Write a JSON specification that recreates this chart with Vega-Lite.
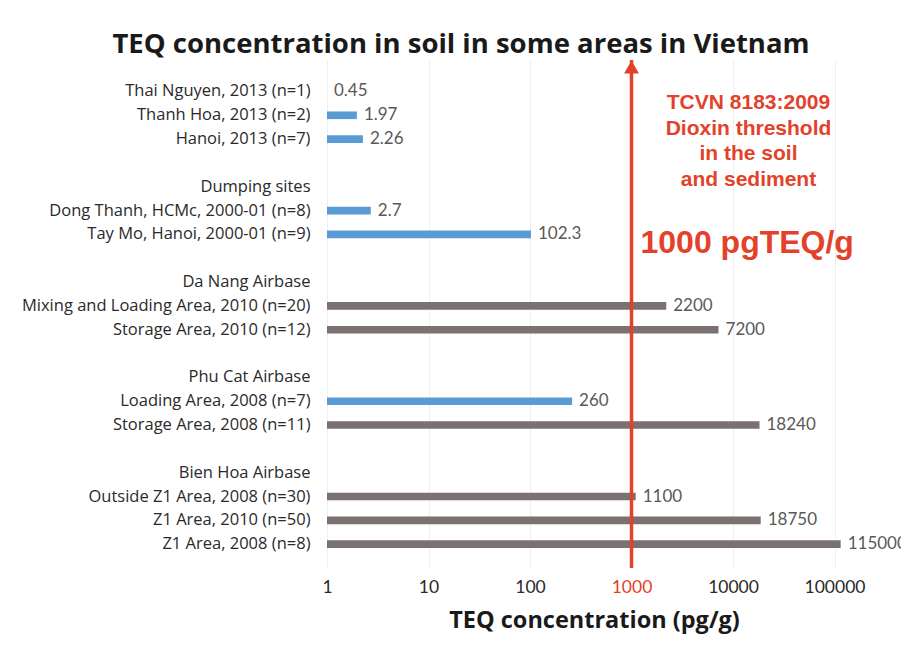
{
  "$schema": "https://vega.github.io/schema/vega-lite/v6.json",
  "autosize": {"type": "none"},
  "width": 574,
  "height": 508,
  "padding": {"left": 327, "top": 60, "right": 0, "bottom": 78},
  "background": "white",
  "title": {
    "text": "TEQ concentration in soil in some areas in Vietnam",
    "font": "Open Sans",
    "fontSize": 27.5,
    "fontWeight": "bold",
    "color": "#1a1a1a",
    "anchor": "middle",
    "dx": -153,
    "offset": 0
  },
  "config": {
    "font": "Open Sans",
    "view": {"stroke": null}
  },
  "datasets": {
    "rows": [
      {"label": "Thai Nguyen, 2013 (n=1)", "value": 0.45, "status": "below"},
      {"label": "Thanh Hoa, 2013 (n=2)", "value": 1.97, "status": "below"},
      {"label": "Hanoi, 2013 (n=7)", "value": 2.26, "status": "below"},
      {"label": " ", "value": null, "status": "none"},
      {"label": "Dumping sites", "value": null, "status": "none"},
      {"label": "Dong Thanh, HCMc, 2000-01 (n=8)", "value": 2.7, "status": "below"},
      {"label": "Tay Mo, Hanoi, 2000-01 (n=9)", "value": 102.3, "status": "below"},
      {"label": "  ", "value": null, "status": "none"},
      {"label": "Da Nang Airbase", "value": null, "status": "none"},
      {"label": "Mixing and Loading Area, 2010 (n=20)", "value": 2200, "status": "above"},
      {"label": "Storage Area, 2010 (n=12)", "value": 7200, "status": "above"},
      {"label": "   ", "value": null, "status": "none"},
      {"label": "Phu Cat Airbase", "value": null, "status": "none"},
      {"label": "Loading Area, 2008 (n=7)", "value": 260, "status": "below"},
      {"label": "Storage Area, 2008 (n=11)", "value": 18240, "status": "above"},
      {"label": "    ", "value": null, "status": "none"},
      {"label": "Bien Hoa Airbase", "value": null, "status": "none"},
      {"label": "Outside Z1 Area, 2008 (n=30)", "value": 1100, "status": "above"},
      {"label": "Z1 Area, 2010 (n=50)", "value": 18750, "status": "above"},
      {"label": "Z1 Area, 2008 (n=8)", "value": 115000, "status": "above"}
    ],
    "one": [{}]
  },
  "layer": [
    {
      "layer": [
        {
          "data": {"name": "rows"},
          "mark": {"type": "bar"},
          "encoding": {
            "y": {
              "field": "label",
              "type": "nominal",
              "sort": null,
              "scale": {
                "domain": ["Thai Nguyen, 2013 (n=1)", "Thanh Hoa, 2013 (n=2)", "Hanoi, 2013 (n=7)", " ", "Dumping sites", "Dong Thanh, HCMc, 2000-01 (n=8)", "Tay Mo, Hanoi, 2000-01 (n=9)", "  ", "Da Nang Airbase", "Mixing and Loading Area, 2010 (n=20)", "Storage Area, 2010 (n=12)", "   ", "Phu Cat Airbase", "Loading Area, 2008 (n=7)", "Storage Area, 2008 (n=11)", "    ", "Bien Hoa Airbase", "Outside Z1 Area, 2008 (n=30)", "Z1 Area, 2010 (n=50)", "Z1 Area, 2008 (n=8)"],
                "paddingInner": 0.68,
                "paddingOuter": 1.017,
                "align": 0.58
              },
              "axis": {
                "title": null,
                "ticks": false,
                "domain": false,
                "labelFont": "Open Sans",
                "labelFontSize": 16.5,
                "labelColor": "#2a2a2a",
                "labelPadding": 17,
                "labelLimit": 400
              }
            },
            "x": {
              "field": "value",
              "type": "quantitative",
              "scale": {"type": "log", "domain": [1, 452000], "nice": false, "clamp": true},
              "axis": {
                "values": [1, 10, 100, 1000, 10000, 100000],
                "format": "d",
                "title": "TEQ concentration (pg/g)",
                "titleFont": "Open Sans",
                "titleFontSize": 23.5,
                "titleFontWeight": "bold",
                "titleColor": "#1a1a1a",
                "titleX": 267,
                "titlePadding": 13,
                "domain": false,
                "ticks": false,
                "labelFont": "Lato",
                "labelFontSize": 17.5,
                "labelPadding": 10,
                "labelColor": {"condition": {"test": "datum.value == 1000", "value": "#e4412b"}, "value": "#2a2a2a"},
                "grid": true,
                "gridColor": "#efefef",
                "labelFlush": false
              }
            },
            "color": {
              "field": "status",
              "type": "nominal",
              "scale": {"domain": ["below", "above"], "range": ["#5b9bd5", "#7b7170"]},
              "legend": null
            }
          }
        },
        {
          "data": {"name": "rows"},
          "mark": {"type": "text", "align": "left", "baseline": "middle", "dx": 7, "font": "Lato", "fontSize": 17, "color": "#595959"},
          "encoding": {
            "y": {"field": "label", "type": "nominal", "sort": null},
            "x": {"field": "value", "type": "quantitative"},
            "text": {"field": "value", "type": "quantitative", "format": "~g"}
          }
        },
        {
          "data": {"name": "one"},
          "mark": {"type": "rule", "color": "#e4412b", "strokeWidth": 3.5},
          "encoding": {
            "x": {"datum": 1000, "type": "quantitative"}
          }
        },
        {
          "data": {"name": "one"},
          "mark": {"type": "text", "align": "center", "baseline": "middle", "dx": 117, "dy": 12, "font": "Liberation Sans", "fontSize": 21, "fontWeight": "bold", "color": "#e4412b", "lineHeight": 25.5},
          "encoding": {
            "x": {"datum": 1000, "type": "quantitative"},
            "y": {"datum": "Thai Nguyen, 2013 (n=1)", "type": "nominal"},
            "text": {"value": ["TCVN 8183:2009", "Dioxin threshold", "in the soil", "and sediment"]}
          }
        },
        {
          "data": {"name": "one"},
          "mark": {"type": "text", "align": "left", "baseline": "middle", "dx": 9, "dy": 9, "font": "Liberation Sans", "fontSize": 32, "fontWeight": "bold", "color": "#e4412b"},
          "encoding": {
            "x": {"datum": 1000, "type": "quantitative"},
            "y": {"datum": "Tay Mo, Hanoi, 2000-01 (n=9)", "type": "nominal"},
            "text": {"value": "1000 pgTEQ/g"}
          }
        }
      ]
    },
    {
      "data": {"name": "one"},
      "mark": {"type": "point", "shape": "triangle-up", "filled": true, "size": 220, "color": "#e4412b", "opacity": 1, "yOffset": 7},
      "encoding": {
        "x": {"datum": 1000, "type": "quantitative"},
        "y": {"datum": 1, "type": "quantitative", "scale": {"domain": [0, 1]}, "axis": null}
      }
    }
  ],
  "resolve": {"scale": {"y": "independent"}, "axis": {"y": "independent"}}
}
